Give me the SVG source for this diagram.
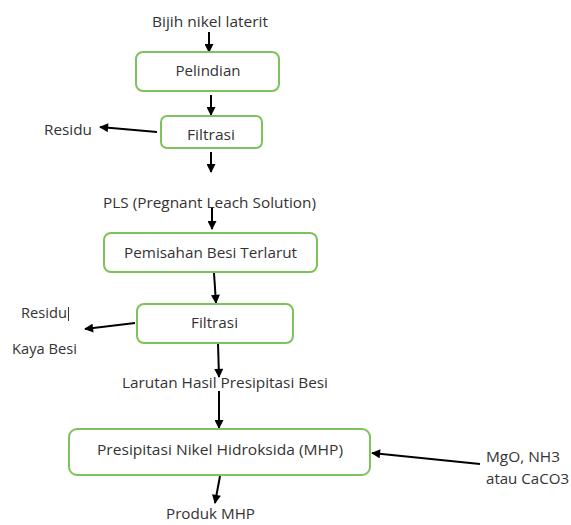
<svg xmlns="http://www.w3.org/2000/svg" width="571" height="525" viewBox="0 0 571 525">
<defs>
<marker id="ah" viewBox="0 0 10 10" refX="9" refY="5" markerWidth="10" markerHeight="9" markerUnits="userSpaceOnUse" orient="auto">
<path d="M0,0 L10,5 L0,10 Z" fill="#000"/>
</marker>
<style>
.box{fill:#fff;stroke:#7dc35a;stroke-width:2}
.t{font-family:"Open Sans","Noto Sans","Liberation Sans",sans-serif;font-size:15px;fill:#333}
.c{text-anchor:middle}
.a{stroke:#000;stroke-width:2;fill:none;marker-end:url(#ah)}
</style>
</defs>
<rect width="571" height="525" fill="#fff"/>
<g id="connectors">
<line class="a" x1="209" y1="32" x2="209" y2="52"/>
<line class="a" x1="211" y1="95" x2="211" y2="115"/>
<line class="a" x1="157" y1="132" x2="100" y2="127"/>
<line class="a" x1="211" y1="152" x2="211" y2="172"/>
<line class="a" x1="212" y1="208" x2="212" y2="229"/>
<line class="a" x1="214" y1="273" x2="216" y2="303"/>
<line class="a" x1="135" y1="323" x2="85" y2="329"/>
<line class="a" x1="218" y1="343" x2="219" y2="377"/>
<line class="a" x1="219" y1="391" x2="219" y2="428"/>
<line class="a" x1="480" y1="464" x2="372" y2="453"/>
<line class="a" x1="220" y1="476" x2="215" y2="503"/>
</g>
<g id="input">
<text class="t" x="152" y="27" textLength="116" lengthAdjust="spacingAndGlyphs">Bijih nikel laterit</text>
</g>
<g id="pelindian">
<rect class="box" x="136" y="52" width="143" height="39" rx="7"/>
<text class="t c" x="208" y="76" textLength="65" lengthAdjust="spacingAndGlyphs">Pelindian</text>
</g>
<g id="filtrasi1">
<rect class="box" x="161" y="116" width="101" height="32" rx="6"/>
<text class="t c" x="211" y="140" textLength="48" lengthAdjust="spacingAndGlyphs">Filtrasi</text>
</g>
<g id="residu1">
<text class="t" x="44" y="135" textLength="48" lengthAdjust="spacingAndGlyphs">Residu</text>
</g>
<g id="pls">
<text class="t" x="103" y="208" textLength="213" lengthAdjust="spacingAndGlyphs">PLS (Pregnant Leach Solution)</text>
</g>
<g id="pemisahan">
<rect class="box" x="104" y="233" width="213" height="39" rx="7"/>
<text class="t c" x="210.5" y="258" textLength="173" lengthAdjust="spacingAndGlyphs">Pemisahan Besi Terlarut</text>
</g>
<g id="filtrasi2">
<rect class="box" x="137" y="304" width="156" height="39" rx="7"/>
<text class="t c" x="214.5" y="328" textLength="47" lengthAdjust="spacingAndGlyphs">Filtrasi</text>
</g>
<g id="residu2">
<text class="t" x="21" y="318" textLength="46" lengthAdjust="spacingAndGlyphs">Residu</text>
<line x1="68.5" y1="307" x2="68.5" y2="321" stroke="#333" stroke-width="1"/>
<text class="t" x="12" y="354" textLength="65" lengthAdjust="spacingAndGlyphs">Kaya Besi</text>
</g>
<g id="larutan">
<text class="t" x="122" y="388" textLength="206" lengthAdjust="spacingAndGlyphs">Larutan Hasil Presipitasi Besi</text>
</g>
<g id="mhp">
<rect class="box" x="69" y="429" width="301" height="46" rx="8"/>
<text class="t c" x="220" y="455" textLength="246" lengthAdjust="spacingAndGlyphs">Presipitasi Nikel Hidroksida (MHP)</text>
</g>
<g id="reagen">
<text class="t" x="486" y="462" textLength="74" lengthAdjust="spacingAndGlyphs">MgO, NH3</text>
<text class="t" x="486" y="484" textLength="83" lengthAdjust="spacingAndGlyphs">atau CaCO3</text>
</g>
<g id="produk">
<text class="t" x="166" y="519" textLength="89" lengthAdjust="spacingAndGlyphs">Produk MHP</text>
</g>
</svg>
